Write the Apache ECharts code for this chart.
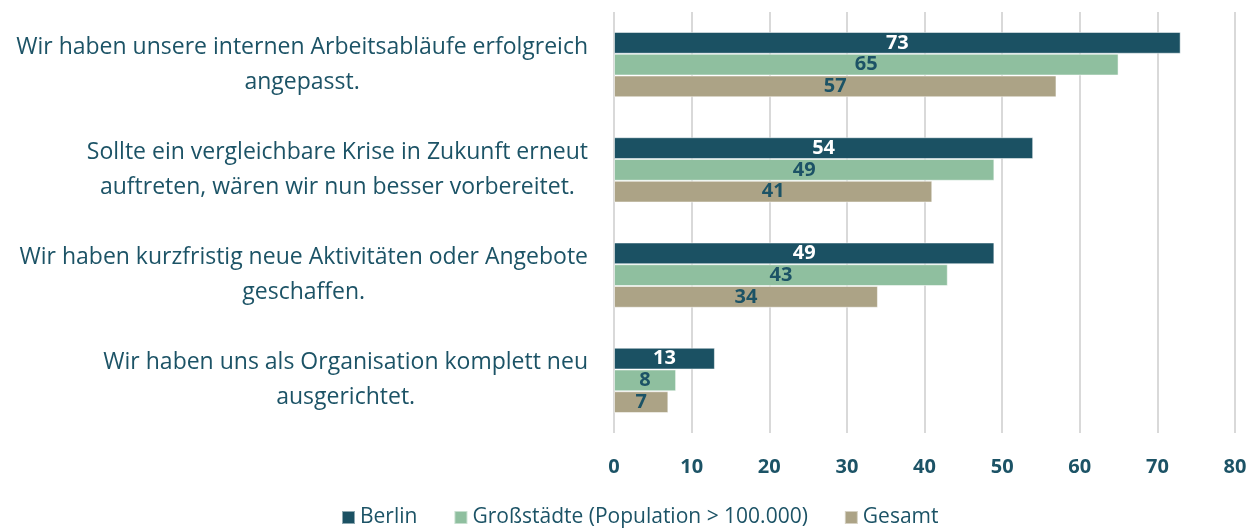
<!DOCTYPE html>
<html>
<head>
<meta charset="utf-8">
<script src="https://cdn.jsdelivr.net/npm/echarts@6/dist/echarts.min.js"></script>
<style>
	html, body { margin: 0; padding: 0; background: #fff; }
	#chart { width: 1258px; height: 532px; }
</style>
</head>
<body>
<div id="chart"></div>
<script>
var categories = [
	"Wir haben unsere internen Arbeitsabläufe erfolgreich\nangepasst.",
	"Sollte ein vergleichbare Krise in Zukunft erneut\nauftreten, wären wir nun besser vorbereitet.",
	"Wir haben kurzfristig neue Aktivitäten oder Angebote\ngeschaffen.",
	"Wir haben uns als Organisation komplett neu\nausgerichtet."
];
var seriesNames = ["Berlin", "Großstädte (Population > 100.000)", "Gesamt"];
var berlin = [73, 54, 49, 13];
var grossstaedte = [65, 49, 43, 8];
var gesamt = [57, 41, 34, 7];
var xTicks = [0, 80, 10];	// min, max, interval

var textColor = '#1c5366';
var colors = ['#1b5163', '#8fbf9f', '#aca386'];
var labelColors = ['#ffffff', textColor, textColor];
var fontName = 'Open Sans';

function makeSeries(name, values, i) {
	return {
		name: name,
		type: 'bar',
		data: values,
		barGap: '0%',
		barCategoryGap: '38%',
		itemStyle: {
			color: colors[i],
			borderColor: 'rgba(255,255,255,0.5)',
			borderWidth: 1
		},
		label: {
			show: true,
			position: 'inside',
			color: labelColors[i],
			fontFamily: fontName,
			fontWeight: 'bold',
			fontSize: 20
		}
	};
}

var myChart = echarts.init(document.getElementById('chart'));
var option = {
	animation: false,
	color: colors,
	grid: {
		left: 614,
		right: 23,
		top: 12,
		bottom: 99
	},
	legend: {
		top: 502,
		left: 336,
		itemWidth: 13,
		itemHeight: 13,
		itemGap: 36,
		icon: 'rect',
		textStyle: {
			color: textColor,
			fontFamily: fontName,
			fontSize: 21
		},
		data: seriesNames
	},
	xAxis: {
		type: 'value',
		min: xTicks[0],
		max: xTicks[1],
		interval: xTicks[2],
		axisLine: { show: false },
		axisTick: { show: false },
		splitLine: { lineStyle: { color: '#d9d9d9', width: 2 } },
		axisLabel: {
			margin: 24,
			color: textColor,
			fontFamily: fontName,
			fontWeight: 'bold',
			fontSize: 20
		}
	},
	yAxis: {
		type: 'category',
		inverse: true,
		data: categories,
		axisLine: { show: false },
		axisTick: { show: false },
		axisLabel: {
			margin: 26,
			align: 'right',
			color: textColor,
			fontFamily: fontName,
			fontSize: 23,
			lineHeight: 35,
			formatter: function (value) {
				return value.split('\n').map(function (s) { return '{c|' + s + '}'; }).join('\n');
			},
			rich: {
				c: {
					align: 'center',
					color: textColor,
					fontFamily: fontName,
					fontSize: 23,
					lineHeight: 35
				}
			}
		}
	},
	series: [
		makeSeries(seriesNames[0], berlin, 0),
		makeSeries(seriesNames[1], grossstaedte, 1),
		makeSeries(seriesNames[2], gesamt, 2)
	]
};
myChart.setOption(option);
</script>
</body>
</html>
